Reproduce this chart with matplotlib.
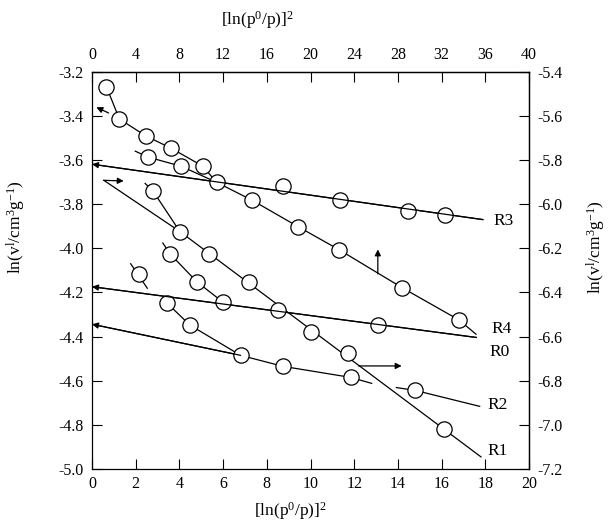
import matplotlib
matplotlib.use("Agg")
import matplotlib.pyplot as plt
from matplotlib.ticker import FormatStrFormatter, FixedLocator

plt.rcParams["font.family"] = "Liberation Serif"
plt.rcParams["mathtext.fontset"] = "custom"
plt.rcParams["mathtext.rm"] = "Liberation Serif"
plt.rcParams["mathtext.it"] = "Liberation Serif:italic"
plt.rcParams["axes.unicode_minus"] = False

# all values in bottom/left axis units: x = [ln(p0/p)]^2, y = ln(v)
# R3: measured points and fitted line
r3_x = [5.70, 8.75, 11.34, 14.48, 16.16]
r3_y = [-3.701, -3.719, -3.779, -3.829, -3.847]
r3_line_x = [17.89, 0.0]
r3_line_y = [-3.870, -3.619]

# R4: steep upper series
r4_x = [0.66, 1.25, 2.48, 3.61, 5.07, 7.34, 9.43, 11.30, 14.20, 16.80]
r4_y = [-3.268, -3.414, -3.492, -3.546, -3.628, -3.783, -3.902, -4.006, -4.179, -4.325]
r4_line_x = [0.66, 1.25, 2.48, 3.61, 5.07, 5.70, 7.34, 9.43, 11.30, 14.20, 16.80, 17.57]
r4_line_y = [-3.268, -3.414, -3.492, -3.546, -3.628, -3.701, -3.783, -3.902, -4.006, -4.179, -4.325, -4.389]

# short branch joining R3
b1_x = [2.57, 4.07]
b1_y = [-3.587, -3.628]
b1_line_x = [1.98, 2.57, 4.07, 5.70]
b1_line_y = [-3.560, -3.587, -3.628, -3.701]

# R1
r1_x = [2.80, 4.02, 5.34, 7.20, 8.52, 10.02, 11.70, 16.11]
r1_y = [-3.742, -3.924, -4.025, -4.152, -4.280, -4.380, -4.476, -4.817]
r1_line_x = [0.54, 4.02, 17.80]
r1_line_y = [-3.692, -3.924, -4.945]
r1_stub_x = [2.43, 2.80, 4.02]
r1_stub_y = [-3.706, -3.742, -3.924]

# short branch joining R0
b2_x = [3.57, 4.80, 5.98]
b2_y = [-4.025, -4.152, -4.243]
b2_line_x = [3.24, 3.57, 4.80, 5.98]
b2_line_y = [-3.976, -4.025, -4.152, -4.243]

# R0
r0_x = [13.11]
r0_y = [-4.348]
r0_line_x = [17.59, 0.0]
r0_line_y = [-4.404, -4.174]

# single point
s_x = [2.16]
s_y = [-4.116]
s_line_x = [1.77, 2.53]
s_line_y = [-4.070, -4.181]

# lower series and R2
b3_x = [3.43, 4.48, 6.80, 8.75, 11.84]
b3_y = [-4.248, -4.348, -4.485, -4.535, -4.585]
b3_line_x = [3.43, 4.48, 6.80]
b3_line_y = [-4.248, -4.348, -4.485]
low_line_x = [12.80, 11.84, 8.75, 6.80, 0.0]
low_line_y = [-4.612, -4.585, -4.535, -4.485, -4.344]
r2_x = [14.80]
r2_y = [-4.644]
r2_line_x = [13.93, 14.80, 17.74]
r2_line_y = [-4.631, -4.644, -4.716]

labels = ["R3", "R4", "R0", "R2", "R1"]
label_x = [18.35, 18.3, 18.2, 18.1, 18.1]
label_y = [-3.877, -4.366, -4.472, -4.708, -4.918]

bottom_ticks = list(range(0, 21, 2))
left_ticks = [-5.0, -4.8, -4.6, -4.4, -4.2, -4.0, -3.8, -3.6, -3.4, -3.2]
top_ticks = list(range(0, 41, 4))
right_ticks = [-7.2, -7.0, -6.8, -6.6, -6.4, -6.2, -6.0, -5.8, -5.6, -5.4]

LW = 0.9
fig = plt.figure(figsize=(6.09, 5.22), dpi=100)
ax = fig.add_axes([0.1511, 0.1015, 0.7176, 0.7611])
ax.set_xlim(0, 20)
ax.set_ylim(-5.0, -3.2)

lines = [
    (r3_line_x, r3_line_y), (r4_line_x, r4_line_y), (b1_line_x, b1_line_y),
    (r1_line_x, r1_line_y), (r1_stub_x, r1_stub_y), (b2_line_x, b2_line_y),
    (r0_line_x, r0_line_y), (s_line_x, s_line_y), (b3_line_x, b3_line_y),
    (low_line_x, low_line_y), (r2_line_x, r2_line_y),
]
for lx, ly in lines:
    ax.plot(lx, ly, color="black", lw=LW, zorder=2)

pts = [(r3_x, r3_y), (r4_x, r4_y), (b1_x, b1_y), (r1_x, r1_y), (b2_x, b2_y),
       (r0_x, r0_y), (s_x, s_y), (b3_x, b3_y), (r2_x, r2_y)]
for px, py in pts:
    ax.plot(px, py, "o", ms=11, mfc="white", mec="black", mew=0.9,
            ls="none", zorder=3)

arrow = dict(arrowstyle="-|>", color="black", lw=LW, mutation_scale=9,
             shrinkA=0, shrinkB=0)


def head(line_x, line_y):
    # arrowhead at the last point of a line, pointing along its last segment
    ax.annotate("", xy=(line_x[-1], line_y[-1]),
                xytext=(line_x[-2], line_y[-2]), arrowprops=arrow)


head(r3_line_x, r3_line_y)
head(r0_line_x, r0_line_y)
head(low_line_x, low_line_y)
ax.annotate("", xy=(1.45, -3.695), xytext=(0.54, -3.692), arrowprops=arrow)
ax.annotate("", xy=(0.20, -3.361), xytext=(0.76, -3.387), arrowprops=arrow)
ax.annotate("", xy=(13.08, -4.005), xytext=(13.08, -4.116), arrowprops=arrow)
ax.annotate("", xy=(14.17, -4.533), xytext=(12.20, -4.533), arrowprops=arrow)

for t, tx, ty in zip(labels, label_x, label_y):
    ax.text(tx, ty, t, fontsize=12.5, ha="left", va="center")

ax.xaxis.set_major_locator(FixedLocator(bottom_ticks))
ax.yaxis.set_major_locator(FixedLocator(left_ticks))
ax.yaxis.set_major_formatter(FormatStrFormatter("%.1f"))
ax.tick_params(direction="in", length=7, width=0.8, labelsize=11.5, pad=6)
ax.tick_params(axis="x", pad=5)

secx = ax.secondary_xaxis("top", functions=(lambda x: 2 * x, lambda x: x / 2))
secx.xaxis.set_major_locator(FixedLocator(top_ticks))
secx.tick_params(direction="in", length=7, width=0.8, labelsize=11.5, pad=6)
secy = ax.secondary_yaxis("right", functions=(lambda y: y - 2.2, lambda y: y + 2.2))
secy.yaxis.set_major_locator(FixedLocator(right_ticks))
secy.yaxis.set_major_formatter(FormatStrFormatter("%.1f"))
secy.tick_params(direction="in", length=7, width=0.8, labelsize=11.5, pad=6)

xlab = r"[ln(p$^0$/p)]$^2$"
ylab = r"ln(v$^\mathrm{l}$/cm$^3$g$^{-1}$)"
ax.set_xlabel(xlab, fontsize=12.5, va="center", ha="center")
ax.xaxis.set_label_coords(0.455, -0.107)
secx.set_xlabel(xlab, fontsize=12.5, va="center", ha="center")
secx.xaxis.set_label_coords(0.378, 1.13, transform=ax.transAxes)
ax.set_ylabel(ylab, fontsize=12.5, va="center", ha="center")
ax.yaxis.set_label_coords(-0.172, 0.609)
secy.set_ylabel(ylab, fontsize=12.5, rotation=90, va="center", ha="center",
                rotation_mode="anchor")
secy.yaxis.set_label_coords(1.154, 0.559, transform=ax.transAxes)

for s in list(ax.spines.values()) + [secx.spines["top"], secy.spines["right"]]:
    s.set_linewidth(0.9)

fig.savefig("out.png", dpi=100)
